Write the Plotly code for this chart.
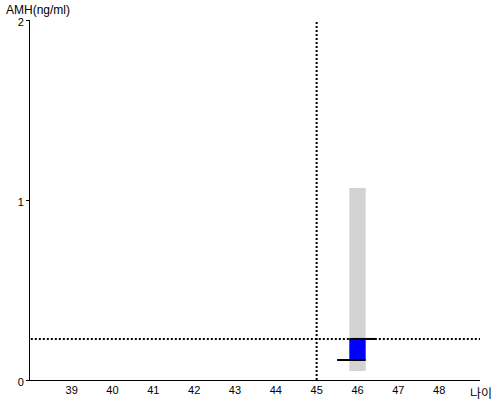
import plotly.graph_objects as go

# Data
age_ticks = [39, 40, 41, 42, 43, 44, 45, 46, 47, 48]
amh_ticks = [0, 1, 2]
bar_age = [46]
range_low = [0.05]
range_high = [1.067]
box_low = [0.111]
box_high = [0.228]
ref_age = 45
ref_amh = 0.228
top_line_x = [45.8, 46.46]
bottom_line_x = [45.5, 46.2]

fig = go.Figure()

# gray normal range bar
fig.add_trace(go.Bar(x=bar_age, y=[h - l for h, l in zip(range_high, range_low)], base=range_low,
                     width=0.4, marker=dict(color="#d3d3d3", line=dict(width=0)), hoverinfo="skip"))
# blue box
fig.add_trace(go.Bar(x=bar_age, y=[h - l for h, l in zip(box_high, box_low)], base=box_low,
                     width=0.4, marker=dict(color="#0000ff", line=dict(width=0)), hoverinfo="skip"))

# reference dotted lines
fig.add_trace(go.Scatter(x=[38, 49], y=[ref_amh, ref_amh], mode="lines",
                         line=dict(color="black", width=2, dash="2px,2px"), hoverinfo="skip"))
fig.add_trace(go.Scatter(x=[ref_age, ref_age], y=[0, 1.99], mode="lines",
                         line=dict(color="black", width=2, dash="2px,2px"), hoverinfo="skip"))

# horizontal black marks
fig.add_trace(go.Scatter(x=top_line_x, y=[box_high[0]] * 2, mode="lines",
                         line=dict(color="black", width=2), hoverinfo="skip"))
fig.add_trace(go.Scatter(x=bottom_line_x, y=[box_low[0]] * 2, mode="lines",
                         line=dict(color="black", width=2), hoverinfo="skip"))

fig.update_layout(
    width=500, height=400,
    margin=dict(l=30, r=20, t=20, b=20),
    paper_bgcolor="white", plot_bgcolor="white",
    showlegend=False, barmode="overlay",
    font=dict(family="Liberation Sans, Arial, sans-serif", size=11, color="black"),
    xaxis=dict(range=[37.98, 49], tickvals=age_ticks, ticktext=[str(v) for v in age_ticks],
               showgrid=False, zeroline=False, showline=True, linecolor="black", linewidth=1,
               ticks="", tickfont=dict(size=11), automargin=False),
    yaxis=dict(range=[0, 2], tickvals=amh_ticks, showgrid=False, zeroline=False,
               showline=True, linecolor="black", linewidth=1,
               ticks="outside", ticklen=3, tickcolor="black", tickfont=dict(size=11),
               ticklabelshift=2, automargin=False),
    annotations=[
        dict(text="AMH(ng/ml)", x=0, y=1, xref="paper", yref="paper", showarrow=False,
             xanchor="left", yanchor="middle", xshift=-25, yshift=10, borderpad=0,
             font=dict(size=12)),
        dict(text="나이", x=1, y=0, xref="paper", yref="paper", showarrow=False,
             xanchor="center", yanchor="middle", xshift=1, yshift=-12,
             font=dict(size=12, family="Noto Sans CJK KR")),
    ],
)

fig.write_html("out.html", config={"displayModeBar": False},
               post_script="document.body.style.margin='0';")
